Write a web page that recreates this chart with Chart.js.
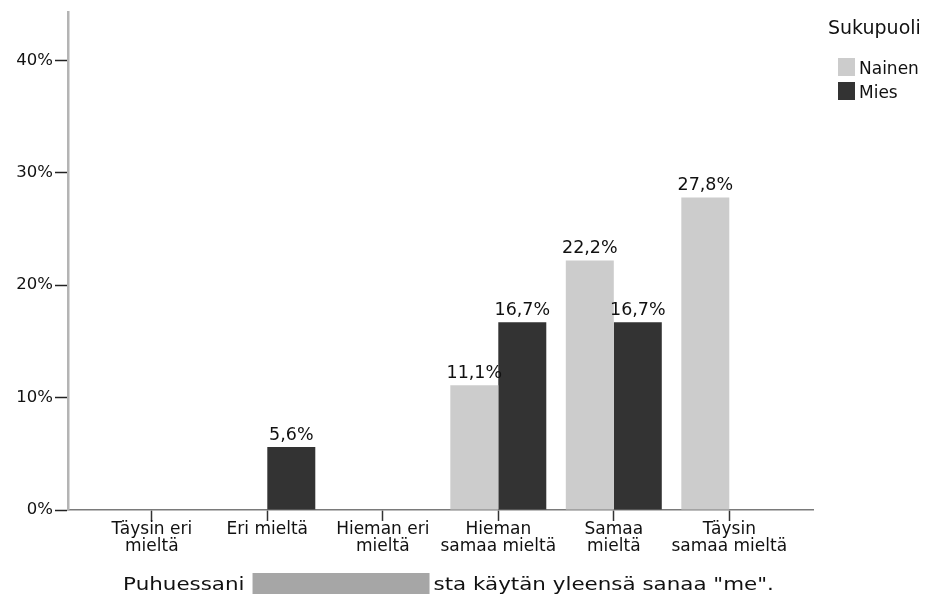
<!DOCTYPE html>
<html><head><meta charset="utf-8">
<script src="https://cdn.jsdelivr.net/npm/chart.js@4"></script>
<style>html,body{margin:0;padding:0;background:#fff}#wrap{width:936px;height:605px;position:relative}</style>
</head><body><div id="wrap"><canvas id="c" width="936" height="605"></canvas></div>
<script>
// ---- data ----
const categories = [["Täysin eri","mieltä"],["Eri mieltä"],["Hieman eri","mieltä"],["Hieman","samaa mieltä"],["Samaa","mieltä"],["Täysin","samaa mieltä"]];
const seriesNames = ["Nainen","Mies"];
const nainen = [0,0,0,11.1,22.2,27.8];
const mies = [0,5.6,0,16.7,16.7,0];
const yTicks = [0,10,20,30,40];
const legendTitle = "Sukupuoli";
const titleBefore = "Puhuessani";
const titleAfter = "sta käytän yleensä sanaa \"me\".";

const colors = ["#cccccc","#333333"];
const FONT = "'DejaVu Sans', sans-serif";

function fmt(v){ return v.toFixed(1).replace('.', ',') + '%'; }

const labelPlugin = {
  id: 'barLabels',
  afterDatasetsDraw(chart){
    const ctx = chart.ctx;
    ctx.save();
    ctx.font = "17.5px " + FONT;
    ctx.fillStyle = "#111";
    ctx.textAlign = 'center';
    ctx.textBaseline = 'alphabetic';
    chart.data.datasets.forEach((ds, di) => {
      const meta = chart.getDatasetMeta(di);
      meta.data.forEach((el, i) => {
        const v = ds.data[i].y;
        if (v > 0) ctx.fillText(fmt(v), el.x, el.y - 7);
      });
    });
    ctx.restore();
  }
};

const legendPlugin = {
  id: 'sideLegend',
  afterDraw(chart){
    const ctx = chart.ctx;
    ctx.save();
    ctx.fillStyle = "#111";
    ctx.textAlign = 'left';
    ctx.textBaseline = 'alphabetic';
    ctx.font = "19px " + FONT;
    ctx.fillText(legendTitle, 828, 34);
    ctx.font = "17px " + FONT;
    chart.data.datasets.forEach((ds, i) => {
      const y = 58 + i * 24;
      ctx.fillStyle = ds.backgroundColor;
      ctx.fillRect(838, y, 17, 18);
      ctx.fillStyle = "#111";
      ctx.fillText(ds.label, 859, y + 16);
    });
    ctx.restore();
  }
};

const titlePlugin = {
  id: 'axisTitle',
  afterDraw(chart){
    const ctx = chart.ctx;
    const a = chart.chartArea;
    const sx = 1.19;
    ctx.save();
    ctx.font = "18px " + FONT;
    ctx.fillStyle = "#111";
    ctx.textBaseline = 'alphabetic';
    const w1 = ctx.measureText(titleBefore).width * sx;
    const w2 = ctx.measureText(titleAfter).width * sx;
    const boxW = 177, g1 = 8, g2 = 4;
    const total = w1 + g1 + boxW + g2 + w2;
    const x0 = (a.left + a.right) / 2 + 8 - total / 2;
    const base = 590;
    ctx.save(); ctx.translate(x0, base); ctx.scale(sx, 1); ctx.fillText(titleBefore, 0, 0); ctx.restore();
    ctx.fillStyle = "#a6a6a6";
    ctx.fillRect(x0 + w1 + g1, base - 17, boxW, 21);
    ctx.fillStyle = "#111";
    ctx.save(); ctx.translate(x0 + w1 + g1 + boxW + g2, base); ctx.scale(sx, 1); ctx.fillText(titleAfter, 0, 0); ctx.restore();
    ctx.restore();
  }
};

new Chart(document.getElementById('c'), {
  type: 'bar',
  data: {
    datasets: [
      { label: seriesNames[0], data: nainen.map((v, i) => ({x: i, y: v})), backgroundColor: colors[0] },
      { label: seriesNames[1], data: mies.map((v, i) => ({x: i, y: v})), backgroundColor: colors[1] }
    ]
  },
  options: {
    responsive: false,
    animation: false,
    categoryPercentage: 0.831,
    barPercentage: 1,
    layout: { padding: { top: 8, left: 0, right: 123, bottom: 0 } },
    plugins: { legend: { display: false }, tooltip: { enabled: false }, title: { display: false } },
    scales: {
      x: {
        type: 'linear',
        offset: false,
        min: -0.7256, max: 5.7247,
        afterBuildTicks: s => { s.ticks = categories.map((_, i) => ({ value: i })); },
        afterFit: s => { s.height = 95; },
        ticks: {
          callback: v => categories[v],
          font: { family: "DejaVu Sans", size: 17, lineHeight: 1.0 },
          color: '#111', maxRotation: 0, autoSkip: false, padding: 0
        },
        grid: { offset: false, drawOnChartArea: false, drawTicks: true, tickLength: 11, tickColor: '#333', tickWidth: 1.5 },
        border: { color: '#7a7a7a', width: 1.5 }
      },
      y: {
        min: 0, max: 44.3,
        afterBuildTicks: s => { s.ticks = yTicks.map(v => ({ value: v })); },
        afterFit: s => { s.width = 68; },
        ticks: { callback: v => v + '%', font: { family: "DejaVu Sans", size: 16.5 }, color: '#111', padding: 2 },
        grid: { drawOnChartArea: false, drawTicks: true, tickLength: 13, tickColor: '#222', tickWidth: 1.5 },
        border: { color: '#b4b4b4', width: 2.5 }
      }
    }
  },
  plugins: [labelPlugin, legendPlugin, titlePlugin]
});
</script>
</body></html>
